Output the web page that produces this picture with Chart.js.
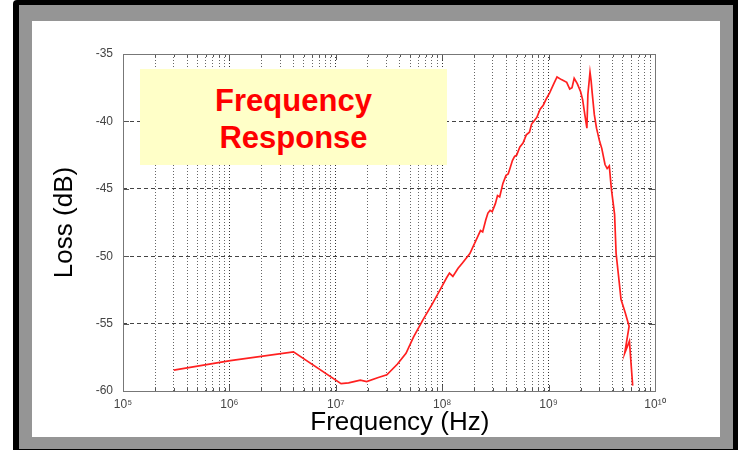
<!DOCTYPE html>
<html>
<head>
<meta charset="utf-8">
<title>Frequency Response</title>
<script src="https://cdn.jsdelivr.net/npm/chart.js@4.4.1/dist/chart.umd.min.js"></script>
<style>
  html, body { margin: 0; padding: 0; background: #fff; }
  #page { position: relative; width: 738px; height: 450px; overflow: hidden; }
  .frame-black { position: absolute; left: 13px; top: 0; width: 725px; height: 460px; background: #000; border-top-left-radius: 4px; }
  .frame-gray { position: absolute; left: 19px; top: 5px; width: 714px; height: 444px; background: #959595; }
  .frame-white { position: absolute; left: 32px; top: 21px; width: 688px; height: 416px; background: #fff; }
  #chart { position: absolute; left: 0; top: 0; }
  .title-box {
    position: absolute; left: 140px; top: 69px; width: 307px; height: 96px;
    background: #ffffc8; box-sizing: border-box; padding-top: 13px;
    text-align: center; color: #ff0000;
    font: bold 31px "Liberation Sans", Arial, sans-serif; line-height: 37px;
  }
</style>
</head>
<body>
<div id="page">
  <div class="frame-black"></div>
  <div class="frame-gray"></div>
  <div class="frame-white"></div>
  <canvas id="chart" width="738" height="450"></canvas>
  <div class="title-box">Frequency<br>Response</div>
</div>
<script>
const freqHz = [
  3.0e5, 1.02e6, 4.0e6, 1.12e7, 1.32e7, 1.70e7, 1.95e7, 2.51e7, 3.02e7, 3.80e7,
  4.57e7, 5.37e7, 6.61e7, 8.13e7, 9.55e7, 1.10e8, 1.17e8, 1.26e8, 1.41e8, 1.55e8,
  1.82e8, 2.14e8, 2.29e8, 2.40e8, 2.57e8, 2.69e8, 2.82e8, 2.95e8, 3.16e8, 3.31e8,
  3.47e8, 3.72e8, 3.98e8, 4.17e8, 4.37e8, 4.57e8, 4.79e8, 5.01e8, 5.37e8, 5.75e8,
  6.17e8, 6.61e8, 6.92e8, 7.24e8, 7.76e8, 8.32e8, 8.91e8, 9.55e8, 1.02e9, 1.12e9,
  1.20e9, 1.32e9, 1.48e9, 1.58e9, 1.66e9, 1.74e9, 1.86e9, 2.00e9, 2.09e9, 2.19e9,
  2.29e9, 2.34e9, 2.45e9, 2.51e9, 2.57e9, 2.69e9, 2.82e9, 3.02e9, 3.16e9, 3.39e9,
  3.55e9, 3.72e9, 3.89e9, 4.17e9, 4.31e9, 4.62e9, 4.79e9, 5.25e9, 5.71e9, 5.19e9,
  5.75e9, 5.96e9, 6.17e9
];
const lossDb = [
  -58.45, -57.75, -57.1, -59.45, -59.4, -59.2, -59.3, -59.0, -58.8, -58.0,
  -57.2, -56.0, -54.7, -53.5, -52.5, -51.6, -51.25, -51.5, -50.9, -50.5,
  -49.8, -48.6, -48.1, -48.2, -47.3, -46.8, -46.6, -46.7, -46.1, -45.5,
  -45.6, -44.6, -44.0, -43.9, -43.4, -42.9, -42.6, -42.5, -41.9, -41.6,
  -41.0, -40.8, -40.2, -40.0, -39.7, -39.1, -38.8, -38.3, -37.9, -37.2,
  -36.7, -36.9, -37.1, -37.6, -37.5, -36.8, -37.2, -37.8, -38.4, -39.5,
  -40.5, -38.0, -36.35, -37.0, -37.9, -39.5, -40.5, -41.5, -42.0, -43.2,
  -43.5, -43.3, -45.0, -46.9, -49.8, -52.0, -53.2, -54.2, -55.2, -57.2,
  -56.3, -58.0, -59.6
];

// axis ticks
const decadeValues = [1e5, 1e6, 1e7, 1e8, 1e9, 1e10];
const decadeLabels = ['10⁵', '10⁶', '10⁷', '10⁸', '10⁹', '10¹⁰'];
const minorSteps = [2, 3, 4, 5, 6, 7, 8, 9];
const lossTicks = [-60, -55, -50, -45, -40, -35];

const xTickValues = [];
decadeValues.forEach((d, i) => {
  xTickValues.push(d);
  if (i < decadeValues.length - 1) {
    minorSteps.forEach(m => xTickValues.push(m * d));
  }
});

function isDecade(v) {
  return decadeValues.some(d => Math.abs(v - d) / d < 1e-6);
}

// plot frame + inward tick marks, like the old plotting package
const frameTicks = {
  id: 'frameTicks',
  afterDatasetsDraw(chart) {
    const { ctx, chartArea: a, scales } = chart;
    ctx.save();
    ctx.strokeStyle = '#555';
    ctx.lineWidth = 1;
    ctx.beginPath();
    for (const t of scales.x.ticks) {
      const px = Math.round(scales.x.getPixelForValue(t.value)) + 0.5;
      const len = isDecade(t.value) ? 6 : 3;
      ctx.moveTo(px, a.bottom); ctx.lineTo(px, a.bottom - len);
      ctx.moveTo(px, a.top); ctx.lineTo(px, a.top + len);
    }
    for (const t of scales.y.ticks) {
      const py = Math.round(scales.y.getPixelForValue(t.value)) + 0.5;
      ctx.moveTo(a.left, py); ctx.lineTo(a.left + 6, py);
      ctx.moveTo(a.right, py); ctx.lineTo(a.right - 6, py);
    }
    ctx.stroke();
    ctx.strokeStyle = '#777';
    ctx.strokeRect(Math.round(a.left) + 0.5, Math.round(a.top) + 0.5,
      Math.round(a.right - a.left), Math.round(a.bottom - a.top));
    ctx.restore();
  }
};

const points = freqHz.map((f, i) => ({ x: f, y: lossDb[i] }));

new Chart(document.getElementById('chart').getContext('2d'), {
  type: 'scatter',
  data: {
    datasets: [{
      label: 'Loss',
      data: points,
      showLine: true,
      borderColor: '#ff2020',
      borderWidth: 1.7,
      pointRadius: 0,
      tension: 0
    }]
  },
  options: {
    responsive: false,
    animation: false,
    devicePixelRatio: 1,
    layout: { padding: { left: 40, top: 54, right: 83, bottom: 0 } },
    plugins: { legend: { display: false }, tooltip: { enabled: false } },
    scales: {
      x: {
        type: 'logarithmic',
        min: 1e5,
        max: 1e10,
        afterBuildTicks: scale => {
          scale.ticks = xTickValues.map(v => ({ value: v }));
        },
        afterFit: scale => { scale.height = 59; },
        ticks: {
          autoSkip: false,
          maxRotation: 0,
          padding: 6,
          color: '#444',
          font: { family: '"Liberation Sans", Arial, sans-serif', size: 12 },
          callback: value => {
            const i = decadeValues.findIndex(d => Math.abs(value - d) / d < 1e-6);
            return i >= 0 ? decadeLabels[i] : '';
          }
        },
        grid: {
          drawTicks: false,
          color: ctx => (ctx.tick && isDecade(ctx.tick.value)) ? '#333' : '#666',
          lineWidth: 1
        },
        border: { display: false, dash: [1, 2] },
        title: {
          display: true,
          // leading spaces nudge the centred title right, as in the original
          text: '   Frequency (Hz)',
          color: '#000',
          padding: { top: 0, bottom: 12 },
          font: { family: '"Liberation Sans", Arial, sans-serif', size: 26 }
        }
      },
      y: {
        min: -60,
        max: -35,
        afterBuildTicks: scale => {
          scale.ticks = lossTicks.map(v => ({ value: v }));
        },
        afterFit: scale => { scale.width = 83; },
        ticks: {
          padding: 10,
          color: '#444',
          font: { family: '"Liberation Sans", Arial, sans-serif', size: 12 }
        },
        grid: { drawTicks: false, color: '#444', lineWidth: 1 },
        border: { display: false, dash: [4, 3] },
        title: {
          display: true,
          text: 'Loss (dB)',
          color: '#000',
          padding: { top: 9, bottom: 0 },
          font: { family: '"Liberation Sans", Arial, sans-serif', size: 26 }
        }
      }
    }
  },
  plugins: [frameTicks]
});
</script>
</body>
</html>
